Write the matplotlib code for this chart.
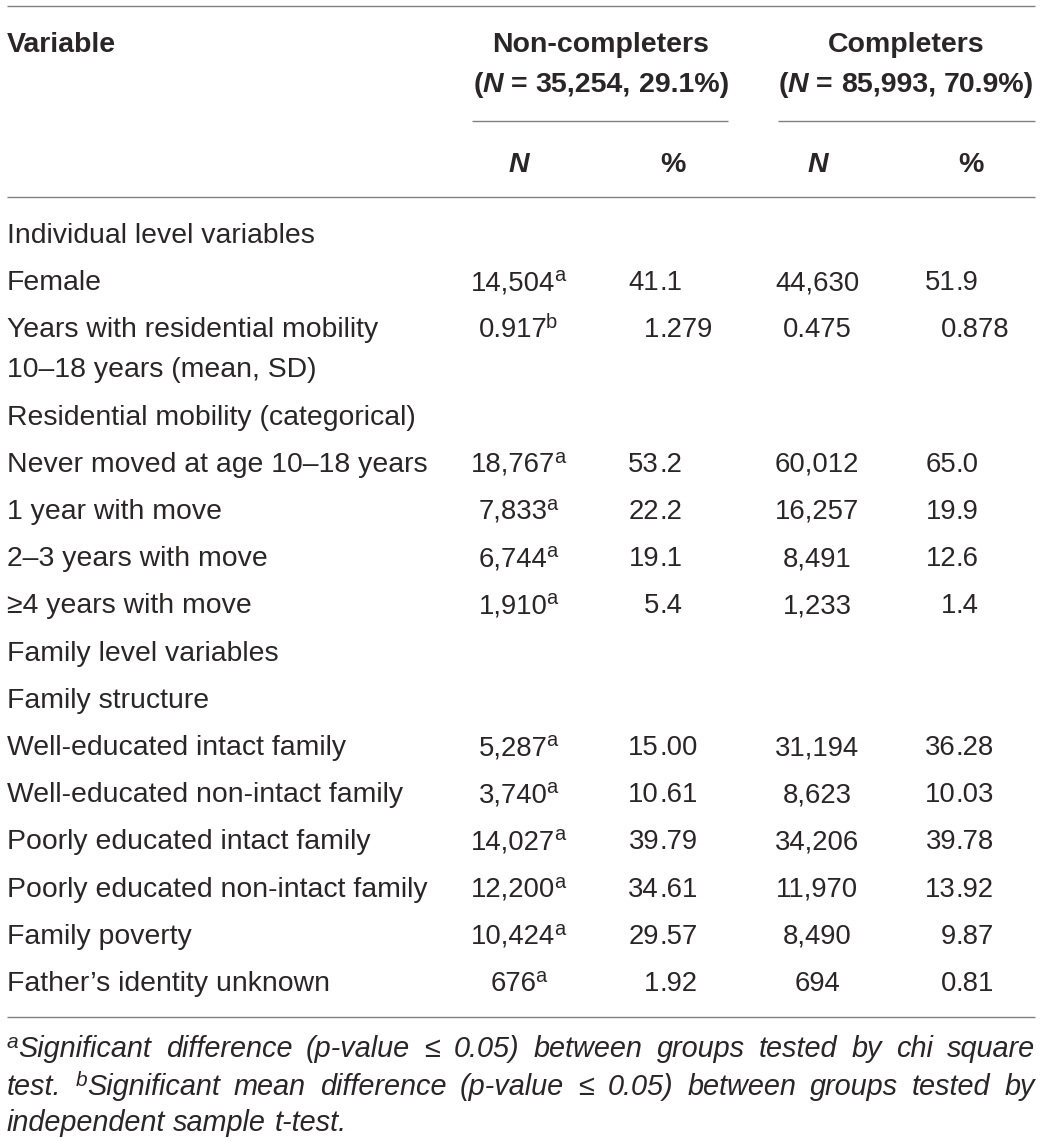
import matplotlib
matplotlib.use('Agg')
import matplotlib.pyplot as plt

plt.rcParams['font.family'] = ['Liberation Sans', 'DejaVu Sans']

# table content
labels = ["Individual level variables", "Female",
          "Years with residential mobility\n10–18 years (mean, SD)",
          "Residential mobility (categorical)", "Never moved at age 10–18 years",
          "1 year with move", "2–3 years with move", "≥4 years with move",
          "Family level variables", "Family structure",
          "Well-educated intact family", "Well-educated non-intact family",
          "Poorly educated intact family", "Poorly educated non-intact family",
          "Family poverty", "Father’s identity unknown"]
nc_n = ["", "14,504", "0.917", "", "18,767", "7,833", "6,744", "1,910", "", "",
        "5,287", "3,740", "14,027", "12,200", "10,424", "676"]
nc_sup = ["", "a", "b", "", "a", "a", "a", "a", "", "",
          "a", "a", "a", "a", "a", "a"]
nc_pct = ["", "41.1", "1.279", "", "53.2", "22.2", "19.1", "5.4", "", "",
          "15.00", "10.61", "39.79", "34.61", "29.57", "1.92"]
c_n = ["", "44,630", "0.475", "", "60,012", "16,257", "8,491", "1,233", "", "",
       "31,194", "8,623", "34,206", "11,970", "8,490", "694"]
c_pct = ["", "51.9", "0.878", "", "65.0", "19.9", "12.6", "1.4", "", "",
         "36.28", "10.03", "39.78", "13.92", "9.87", "0.81"]
groups = ["Non-completers", "Completers"]
group_n = ["35,254, 29.1%", "85,993, 70.9%"]
foot_1 = "Significant difference (p-value ≤ 0.05) between groups tested by chi square"
foot_2a = "test."
foot_2b = "Significant mean difference (p-value ≤ 0.05) between groups tested by"
foot_3 = "independent sample t-test."

W, H = 1042, 1142
FS = 19.8      # numbers
FS_LAB = 20.4  # row labels
INK = '#2a2627'
RULE = '#808080'

fig = plt.figure(figsize=(W / 100, H / 100), dpi=100)
ax = fig.add_axes([0, 0, 1, 1])
ax.set_xlim(0, W)
ax.set_ylim(H, 0)
ax.axis('off')
renderer = fig.canvas.get_renderer()


def put_runs(x, y, runs, ha='left', justify=None, space_fs=FS):
    # runs: (text, props); words are laid out one by one so widths are known
    items = []
    pending = False
    for text, props in runs:
        props = dict(props)
        dy = props.pop('dy', 0)
        dx = props.pop('dx', 0)
        fs = props.pop('fontsize', FS)
        for i, w in enumerate(text.split(' ')):
            if i > 0:
                pending = True
            if w == '':
                continue
            t = ax.text(0, y - dy, w, va='baseline', ha='left', color=INK,
                        fontsize=fs, **props)
            items.append([t, t.get_window_extent(renderer).width, pending, dx])
            pending = False
    n_gap = sum(1 for it in items if it[2])
    total = sum(it[1] + it[3] for it in items)
    if justify is not None and n_gap:
        space = (justify - total) / n_gap
    else:
        space = 0.278 * space_fs * 100 / 72
    total += n_gap * space
    if ha == 'center':
        x -= total / 2
    elif ha == 'right':
        x -= total
    for t, w, gap, dx in items:
        if gap:
            x += space
        x += dx
        t.set_x(x)
        x += w


def put_dec(x_dec, y, s):
    whole, frac = s.split('.')
    ax.text(x_dec, y, whole, ha='right', va='baseline', fontsize=FS, color=INK)
    ax.text(x_dec, y, '.' + frac, ha='left', va='baseline', fontsize=FS, color=INK)


def rule(y, x0=7, x1=1035):
    ax.plot([x0, x1], [y, y], color=RULE, lw=1.0, solid_capstyle='butt')


bold = dict(fontweight='bold', fontsize=20.5)
bold_it = dict(fontweight='bold', fontstyle='italic', fontsize=20.5)
sup = dict(fontsize=14.5, dy=9, dx=-1.5)
it = dict(fontstyle='italic', fontsize=20.8)
sup_it = dict(fontstyle='italic', fontsize=15, dy=9)

# header
rule(6)
ax.text(7, 52, "Variable", va='baseline', ha='left', color=INK, **bold)
for cx, g, gn in zip([601, 906], groups, group_n):
    put_runs(cx, 52, [(g, bold)], ha='center', space_fs=20.5)
    put_runs(cx, 92, [("(", bold), ("N", bold_it), (" = " + gn + ")", bold)],
             ha='center', space_fs=20.5)
rule(121, 472, 728)
rule(121, 778, 1035)
for cx, s in zip([519, 673, 818, 971], ["N", "%", "N", "%"]):
    put_runs(cx, 172, [(s, bold_it if s == "N" else bold)], ha='center')
rule(197)

# body rows
y = 233
for lab, a, sa, b, c, d in zip(labels, nc_n, nc_sup, nc_pct, c_n, c_pct):
    lines = lab.split('\n')
    base = y + 10
    for k, ln in enumerate(lines):
        ax.text(7, base + 40 * k, ln, ha='left', va='baseline', fontsize=FS_LAB, color=INK)
    if a:
        put_runs(518, base, [(a, {}), (sa, sup)], ha='center')
        put_dec(659, base, b)
        put_runs(817, base, [(c, {})], ha='center')
        put_dec(956, base, d)
    y += 47.2 + 40 * (len(lines) - 1)

rule(1017)

# footnotes
put_runs(7, 1057, [("a", sup_it), (foot_1, it)], justify=1028)
put_runs(7, 1095, [(foot_2a + " ", it), ("b", sup_it), (foot_2b, it)], justify=1028)
put_runs(7, 1131, [(foot_3, it)], space_fs=20.8)

fig.savefig('out.png', dpi=100)
